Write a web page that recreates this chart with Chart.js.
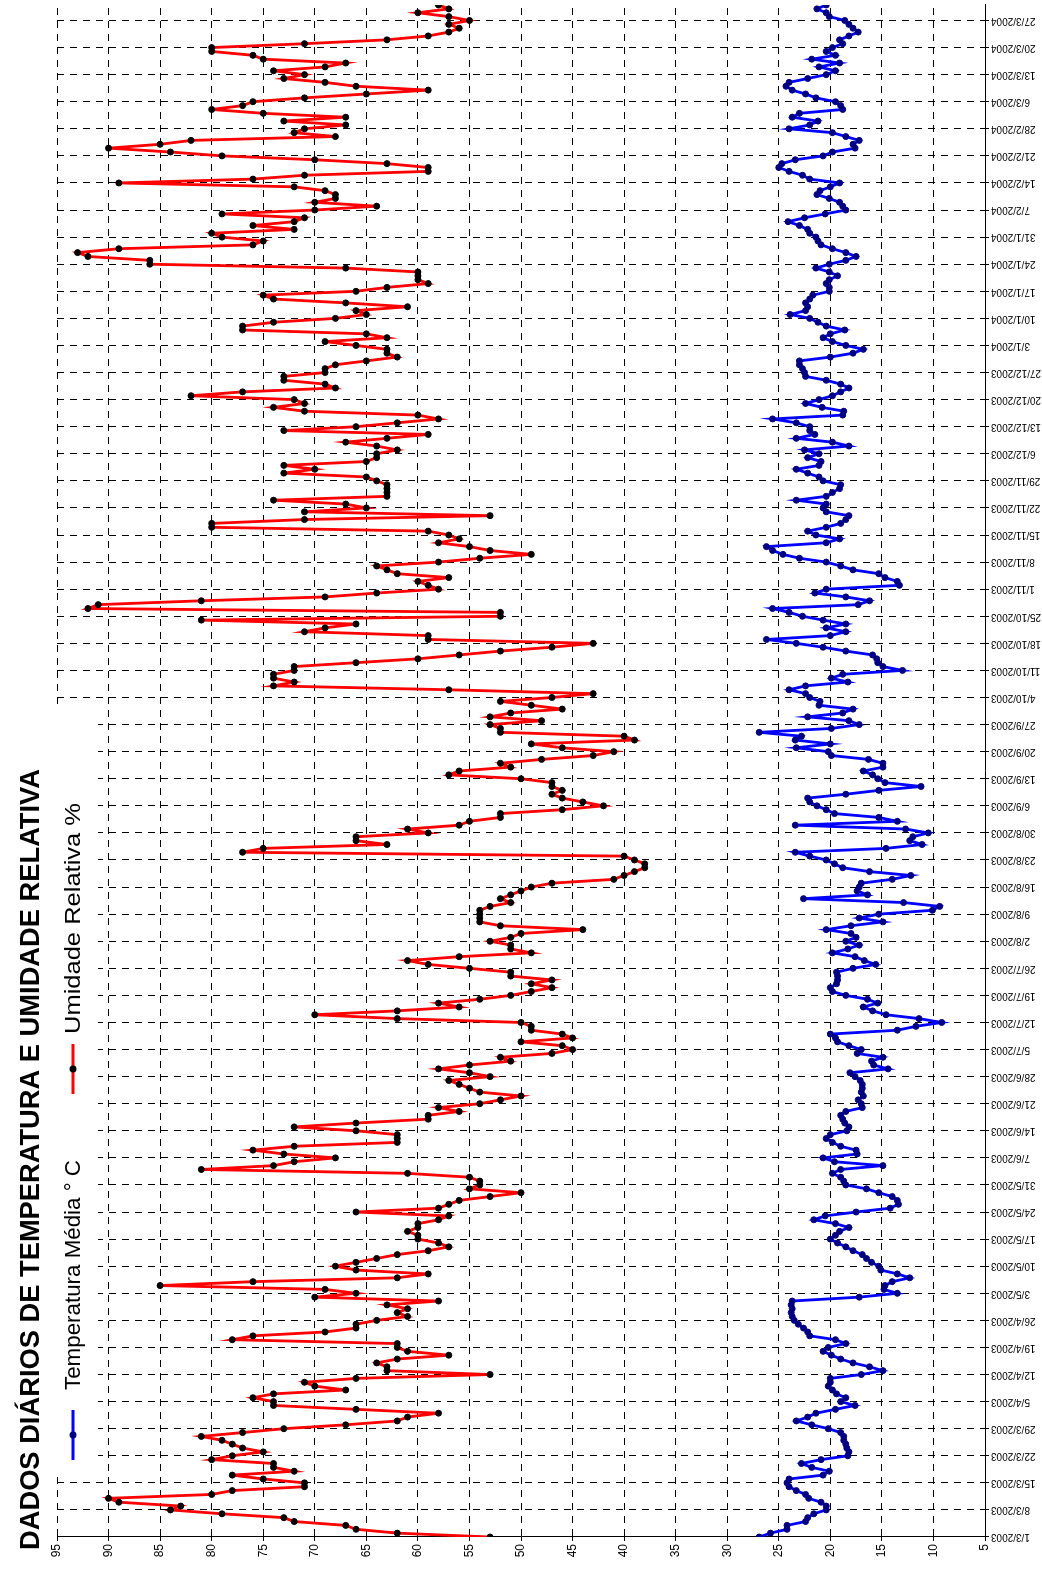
<!DOCTYPE html>
<html lang="pt">
<head>
<meta charset="utf-8">
<title>Dados diários de temperatura e umidade relativa</title>
<script src="https://cdn.jsdelivr.net/npm/chart.js@4/dist/chart.umd.min.js"></script>
<style>
  html, body { margin: 0; padding: 0; background: #fff; overflow: hidden; }
  /* the chart is drawn landscape and turned a quarter turn, like the original */
  #wrap {
    position: absolute; left: 0; top: 0;
    width: 1574px; height: 1042px;
    transform-origin: 0 0;
    transform: translateY(1574px) rotate(-90deg);
  }
  canvas { display: block; }
</style>
</head>
<body>
<div id="wrap"><canvas id="chart" width="1574" height="1042"></canvas></div>
<script>
const titleText = 'DADOS DIÁRIOS DE TEMPERATURA E UMIDADE RELATIVA';
const seriesNames = ['Temperatura Média ° C', 'Umidade Relativa %'];

// one label per week, day 0 = 1/3/2003, last day = 31/3/2004
const tickLabels = [
  '1/3/2003', '8/3/2003', '15/3/2003', '22/3/2003', '29/3/2003', '5/4/2003', '12/4/2003',
  '19/4/2003', '26/4/2003', '3/5/2003', '10/5/2003', '17/5/2003', '24/5/2003', '31/5/2003',
  '7/6/2003', '14/6/2003', '21/6/2003', '28/6/2003', '5/7/2003', '12/7/2003', '19/7/2003',
  '26/7/2003', '2/8/2003', '9/8/2003', '16/8/2003', '23/8/2003', '30/8/2003', '6/9/2003',
  '13/9/2003', '20/9/2003', '27/9/2003', '4/10/2003', '11/10/2003', '18/10/2003', '25/10/2003',
  '1/11/2003', '8/11/2003', '15/11/2003', '22/11/2003', '29/11/2003', '6/12/2003', '13/12/2003',
  '20/12/2003', '27/12/2003', '3/1/2004', '10/1/2004', '17/1/2004', '24/1/2004', '31/1/2004',
  '7/2/2004', '14/2/2004', '21/2/2004', '28/2/2004', '6/3/2004', '13/3/2004', '20/3/2004',
  '27/3/2004'
];

// Umidade Relativa %, one value per day
const humidity = [
  53, 62, 66, 67, 72, 73, 79, 84, 83, 89,
  90, 80, 78, 71, 71, 75, 78, 72, 74, 74,
  80, 78, 75, 77, 78, 79, 81, 77, 73, 67,
  62, 61, 58, 66, 74, 74, 76, 74, 67, 70,
  71, 66, 53, 63, 63, 64, 62, 57, 61, 62,
  62, 78, 76, 69, 66, 66, 64, 61, 62, 61,
  63, 58, 70, 66, 69, 85, 76, 62, 59, 66,
  68, 66, 64, 62, 59, 57, 58, 60, 60, 61,
  60, 60, 58, 57, 66, 58, 57, 56, 53, 50,
  55, 54, 54, 55, 61, 81, 74, 72, 68, 73,
  76, 72, 62, 62, 62, 66, 72, 66, 59, 59,
  56, 58, 54, 52, 50, 54, 55, 56, 57, 53,
  55, 58, 55, 51, 52, 47, 45, 46, 50, 45,
  46, 49, 49, 50, 62, 70, 62, 56, 58, 54,
  51, 49, 47, 49, 47, 51, 51, 55, 59, 61,
  56, 49, 51, 51, 53, 51, 50, 44, 52, 54,
  54, 54, 54, 53, 51, 52, 51, 50, 49, 47,
  41, 40, 39, 38, 38, 39, 40, 77, 75, 63,
  66, 66, 59, 61, 56, 55, 52, 52, 46, 42,
  44, 46, 47, 46, 47, 47, 50, 57, 56, 51,
  52, 48, 43, 41, 46, 49, 39, 40, 52, 52,
  53, 48, 53, 51, 46, 49, 52, 47, 43, 57,
  74, 72, 74, 74, 72, 72, 66, 60, 56, 52,
  47, 43, 59, 59, 71, 69, 66, 81, 52, 52,
  92, 91, 81, 69, 64, 58, 59, 60, 57, 62,
  63, 64, 58, 54, 49, 53, 55, 58, 56, 57,
  59, 80, 80, 71, 53, 71, 65, 67, 74, 63,
  63, 63, 63, 64, 65, 73, 70, 73, 65, 64,
  64, 62, 64, 67, 63, 59, 73, 66, 62, 58,
  60, 71, 74, 71, 72, 82, 77, 68, 69, 73,
  73, 69, 69, 68, 65, 62, 63, 63, 66, 69,
  63, 65, 77, 77, 74, 68, 65, 66, 61, 67,
  74, 75, 66, 63, 59, 60, 60, 60, 67, 86,
  86, 92, 93, 89, 76, 75, 79, 80, 72, 76,
  72, 71, 79, 70, 64, 70, 68, 68, 69, 72,
  89, 76, 71, 59, 59, 63, 70, 79, 84, 90,
  85, 82, 68, 72, 71, 67, 73, 67, 75, 80,
  77, 76, 71, 65, 59, 66, 69, 73, 71, 74,
  69, 67, 75, 76, 80, 80, 71, 63, 59, 57,
  56, 57, 55, 57, 60, 57, 58
];

// Temperatura Média ° C, one value per day
const temperature = [
  26.9, 25.8, 24.2, 24.2, 22.4, 22.2, 21.6, 20.4, 20.4, 20.9,
  22.1, 22.4, 23.3, 24.0, 24.2, 24.0, 20.7, 20.1, 21.8, 22.8,
  20.9, 18.3, 18.2, 18.4, 18.5, 18.7, 18.7, 19.0, 20.2, 21.8,
  23.3, 22.2, 21.4, 19.5, 17.6, 19.0, 18.5, 19.4, 19.8, 20.2,
  20.0, 20.0, 17.0, 14.9, 16.2, 17.8, 19.0, 19.9, 20.7, 20.2,
  18.5, 19.5, 22.0, 22.2, 22.6, 23.1, 23.5, 23.7, 23.8, 23.7,
  23.8, 23.7, 17.2, 13.5, 14.8, 14.7, 14.0, 12.3, 13.5, 15.1,
  15.3, 16.0, 16.5, 16.9, 17.8, 18.5, 19.3, 20.0, 19.5, 19.1,
  18.2, 19.5, 21.6, 20.5, 17.5, 14.2, 13.4, 13.5, 14.0, 15.3,
  16.5, 18.5, 18.7, 19.0, 19.8, 19.0, 14.9, 19.6, 20.7, 17.4,
  17.5, 19.0, 19.8, 20.4, 20.0, 18.4, 18.2, 18.6, 18.8, 19.0,
  18.5, 16.9, 17.0, 17.3, 16.8, 17.0, 16.9, 16.9, 17.1, 17.6,
  18.1, 14.4, 15.8, 16.0, 14.9, 17.4, 17.0, 18.2, 19.3, 19.5,
  20.0, 13.5, 11.7, 9.2, 11.4, 14.6, 15.9, 16.8, 15.4, 16.4,
  18.5, 19.8, 20.0, 19.4, 19.3, 19.3, 19.4, 17.8, 15.6, 16.7,
  17.6, 19.8, 18.3, 17.2, 18.5, 17.5, 18.0, 20.4, 18.0, 14.9,
  17.2, 15.3, 10.1, 9.4, 12.9, 22.6, 16.4, 17.4, 17.2, 17.0,
  14.0, 12.2, 16.2, 18.8, 19.6, 20.4, 22.0, 23.4, 14.6, 11.1,
  12.3, 12.0, 10.5, 12.7, 23.4, 13.5, 15.3, 19.6, 20.4, 21.3,
  22.0, 22.2, 18.5, 15.3, 11.2, 14.7, 15.4, 15.9, 16.8, 14.9,
  14.9, 16.3, 19.9, 20.2, 23.3, 20.0, 23.4, 22.8, 26.9, 19.9,
  17.2, 18.2, 22.2, 18.8, 17.8, 21.1, 21.0, 22.0, 22.4, 24.0,
  22.4, 18.3, 19.9, 18.8, 13.0, 14.9, 15.4, 15.5, 15.9, 18.5,
  20.7, 23.3, 26.2, 20.0, 18.5, 20.4, 18.5, 20.7, 22.7, 24.0,
  25.6, 17.3, 16.2, 18.5, 21.5, 20.4, 13.3, 13.5, 14.7, 15.3,
  17.8, 19.0, 20.4, 23.0, 24.6, 25.6, 26.2, 20.4, 19.1, 21.4,
  22.2, 20.4, 19.0, 18.5, 18.2, 20.4, 20.7, 20.4, 23.3, 20.4,
  19.8, 19.1, 19.0, 20.7, 21.1, 22.2, 23.3, 21.1, 20.9, 22.2,
  21.1, 22.5, 18.2, 19.8, 23.3, 21.5, 22.0, 22.0, 23.3, 25.6,
  18.8, 18.7, 20.8, 22.4, 21.1, 19.8, 19.0, 18.2, 19.0, 20.4,
  22.4, 22.5, 22.7, 23.0, 23.0, 20.0, 17.8, 16.8, 18.5, 19.8,
  20.7, 20.0, 18.6, 20.4, 21.2, 22.0, 23.9, 22.4, 22.2, 22.4,
  22.0, 21.7, 20.1, 20.1, 20.4, 20.1, 19.3, 20.1, 21.4, 20.1,
  18.5, 17.5, 18.5, 19.8, 20.9, 21.2, 21.4, 22.0, 22.2, 23.0,
  24.1, 22.5, 20.5, 18.5, 18.8, 19.1, 20.1, 21.3, 21.0, 20.0,
  19.1, 22.0, 22.7, 24.0, 25.0, 24.7, 23.4, 20.7, 19.8, 17.6,
  17.8, 17.2, 18.5, 19.8, 24.0, 22.0, 21.2, 23.7, 23.0, 18.8,
  19.0, 19.5, 21.4, 22.4, 23.7, 24.3, 24.0, 22.2, 20.4, 19.5,
  21.1, 19.1, 21.8, 19.5, 20.4, 19.8, 18.8, 19.1, 18.2, 17.3,
  17.8, 18.2, 18.6, 20.1, 20.4, 21.3, 20.4
];

const FONT = '"Liberation Sans", Arial, sans-serif';

// title + legend, drawn over the top of the plot like the original (white legend box)
const titleAndLegend = {
  id: 'titleAndLegend',
  afterDraw(chart) {
    const ctx = chart.ctx;
    ctx.save();
    ctx.fillStyle = '#000';
    ctx.textAlign = 'left';
    ctx.textBaseline = 'middle';
    ctx.font = 'bold 27.3px ' + FONT;
    ctx.fillText(titleText, 24, 31);

    ctx.fillStyle = '#fff';
    ctx.fillRect(100, 56, 765, 42);

    // x = start of the line symbol, textX = start of the text, textW = width of the text
    const items = [
      { x: 114, textX: 184, textW: 230, name: seriesNames[0], ds: chart.data.datasets[0] },
      { x: 480, textX: 540, textW: 231, name: seriesNames[1], ds: chart.data.datasets[1] }
    ];
    const y = 73;
    items.forEach(it => {
      ctx.strokeStyle = it.ds.borderColor;
      ctx.lineWidth = 2.8;
      ctx.beginPath();
      ctx.moveTo(it.x, y);
      ctx.lineTo(it.x + 50, y);
      ctx.stroke();
      ctx.fillStyle = it.ds.pointBackgroundColor;
      ctx.beginPath();
      ctx.arc(it.x + 25, y, 3.5, 0, Math.PI * 2);
      ctx.fill();

      ctx.fillStyle = '#000';
      ctx.font = '22px ' + FONT;
      const w = ctx.measureText(it.name).width;
      ctx.save();
      ctx.translate(it.textX, y + 1);
      ctx.scale(it.textW / w, 1);
      ctx.fillText(it.name, 0, 0);
      ctx.restore();
    });
    ctx.restore();
  }
};

const gridCommon = { color: '#000', lineWidth: 1, tickLength: 4, tickColor: '#000', tickWidth: 1 };

new Chart(document.getElementById('chart'), {
  type: 'line',
  data: {
    datasets: [
      {
        label: seriesNames[0],
        data: temperature.map((v, i) => ({ x: i, y: v })),
        borderColor: '#0000ff',
        borderWidth: 2.8,
        pointBackgroundColor: '#000080',
        pointBorderColor: '#000080',
        pointRadius: 3,
        pointBorderWidth: 1,
        fill: false
      },
      {
        label: seriesNames[1],
        data: humidity.map((v, i) => ({ x: i, y: v })),
        borderColor: '#ff0000',
        borderWidth: 2.8,
        pointBackgroundColor: '#000000',
        pointBorderColor: '#000000',
        pointRadius: 3,
        pointBorderWidth: 1,
        fill: false
      }
    ]
  },
  options: {
    responsive: false,
    animation: false,
    events: [],
    layout: { padding: { top: 57, right: 5, bottom: 0, left: 0 } },
    elements: { line: { tension: 0 } },
    plugins: {
      legend: { display: false },
      title: { display: false },
      tooltip: { enabled: false }
    },
    scales: {
      x: {
        type: 'linear',
        min: 0,
        max: 396,
        grid: gridCommon,
        border: { display: true, color: '#000', width: 1, dash: [7, 6] },
        ticks: {
          stepSize: 7,
          includeBounds: false,
          autoSkip: false,
          minRotation: 90,
          maxRotation: 90,
          padding: 2,
          color: '#000',
          font: { family: FONT, size: 10 },
          callback: v => tickLabels[Math.round(v / 7)]
        },
        afterFit: s => { s.height = 57; }
      },
      y: {
        min: 5,
        max: 95,
        grid: gridCommon,
        border: { display: true, color: '#000', width: 1, dash: [7, 6] },
        ticks: {
          stepSize: 5,
          padding: 3,
          color: '#000',
          font: { family: FONT, size: 12 }
        },
        afterFit: s => { s.width = 37; }
      }
    }
  },
  plugins: [titleAndLegend]
});
</script>
</body>
</html>
